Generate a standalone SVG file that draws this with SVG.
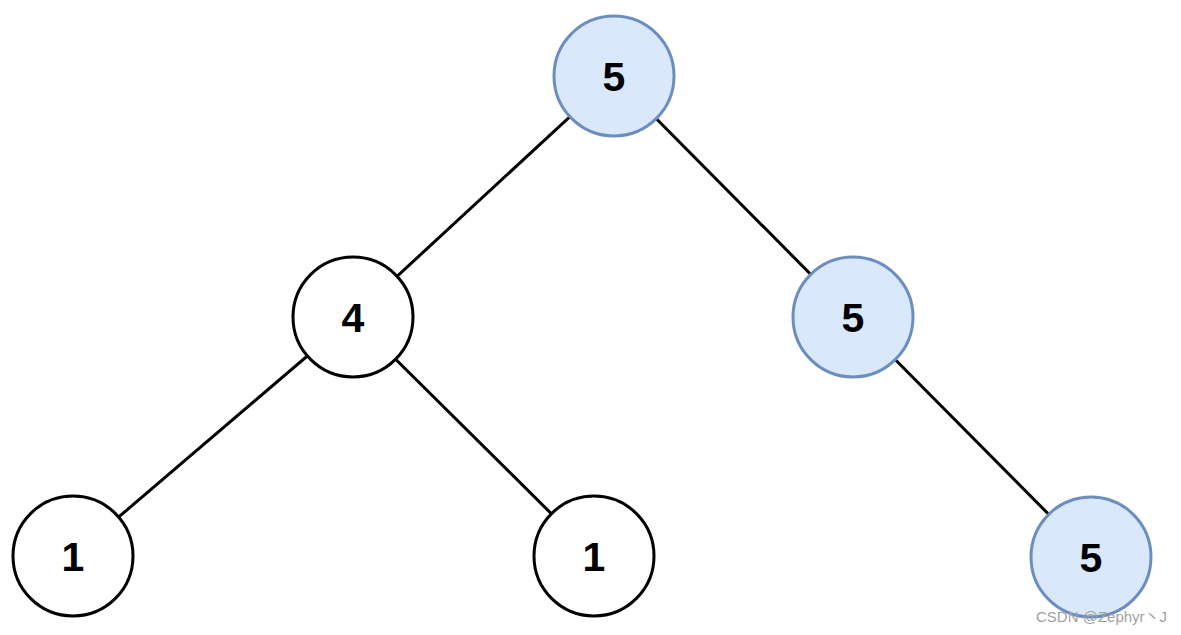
<svg xmlns="http://www.w3.org/2000/svg" width="1181" height="635" viewBox="0 0 1181 635">
<style>
.edge{stroke:#000;stroke-width:3;fill:none}
.plain{fill:#fff;stroke:#000;stroke-width:3}
.blue{fill:#dae8fc;stroke:#6c8ebf;stroke-width:3}
.lbl{font-family:"Liberation Sans",Arial,sans-serif;font-weight:bold;font-size:41px;fill:#000;text-anchor:middle}
.wm{font-family:"Liberation Sans","Noto Sans CJK SC",sans-serif;font-size:15px;fill:#a0a0a0}
</style>
<rect width="1181" height="635" fill="#fff"/>
<g id="connectors">
<line class="edge" x1="614" y1="76" x2="353" y2="317"/>
<line class="edge" x1="614" y1="76" x2="853" y2="317"/>
<line class="edge" x1="353" y1="317" x2="73" y2="556"/>
<line class="edge" x1="353" y1="317" x2="594" y2="556"/>
<line class="edge" x1="853" y1="317" x2="1091" y2="557"/>
</g>
<g id="n-root"><circle class="blue" cx="614" cy="76" r="60"/><text class="lbl" x="614" y="91">5</text></g>
<g id="n-4"><circle class="plain" cx="353" cy="317" r="60"/><text class="lbl" x="353" y="332">4</text></g>
<g id="n-5r"><circle class="blue" cx="853" cy="317" r="60"/><text class="lbl" x="853" y="332">5</text></g>
<g id="n-1a"><circle class="plain" cx="73" cy="556" r="60"/><text class="lbl" x="73" y="571">1</text></g>
<g id="n-1b"><circle class="plain" cx="594" cy="556" r="60"/><text class="lbl" x="594" y="571">1</text></g>
<g id="n-5c"><circle class="blue" cx="1091" cy="557" r="60"/><text class="lbl" x="1091" y="572">5</text></g>
<text class="wm" x="1036" y="622">CSDN @Zephyr丶J</text>
</svg>
